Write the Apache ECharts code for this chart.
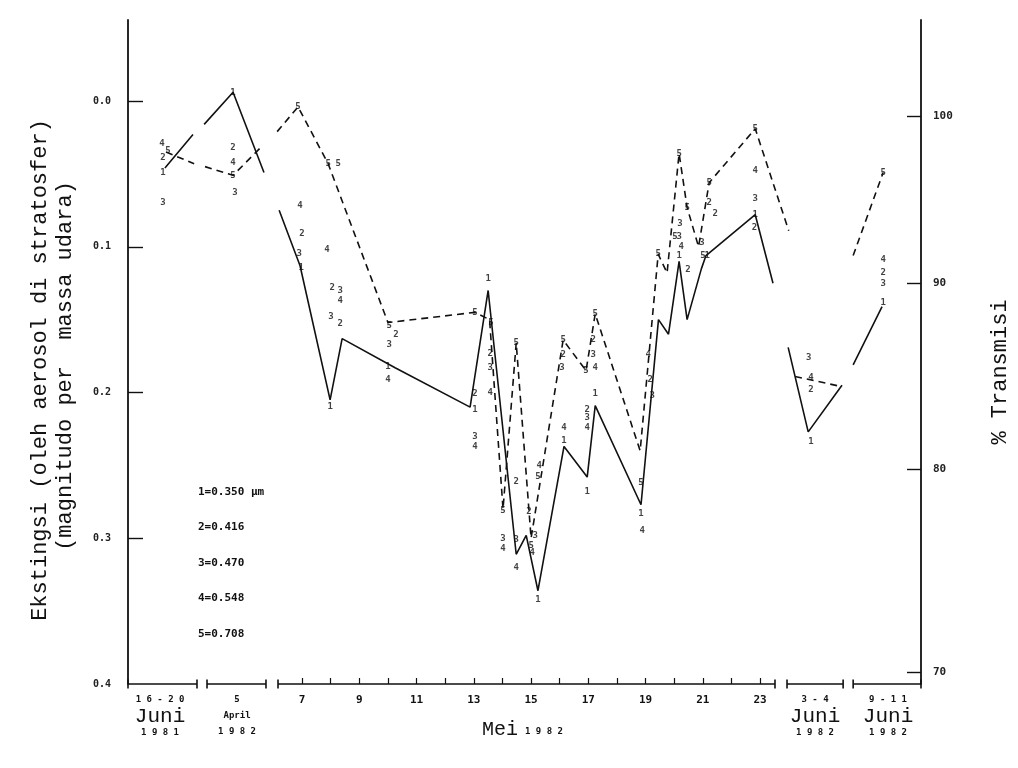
<!DOCTYPE html>
<html><head><meta charset="utf-8">
<script src="https://cdn.jsdelivr.net/npm/echarts@6/dist/echarts.min.js"></script>
<style>html,body{margin:0;padding:0;background:#fff}#c{width:1018px;height:768px}</style>
</head><body><div id="c"></div>
<script>
// ---- x positions: Mei days are day numbers; other periods get positions on the same scale
const periodLabelPos = [2.04, 4.73, 7, 9, 11, 13, 15, 17, 19, 21, 23, 24.92, 27.47];
const periodLabels = ['16-20|Juni|1981', '5|April|1982', '7', '9', '11', '13', '15', '17', '19', '21', '23', '3-4|Juni|1982', '9-11|Juni|1982'];
const dayTicks = [7,8,9,10,11,12,13,14,15,16,17,18,19,20,21,22,23];
const axisSegments = [[0.92,3.33],[3.68,5.74],[6.16,23.52],[23.94,25.90],[26.25,28.62]];
const leftTicks = [0, 0.1, 0.2, 0.3, 0.4];
const rightTickLabels = ['100', '90', '80', '70'];
const rightTickPos = [0.0103, 0.1247, 0.2526, 0.392];

// ---- wavelength 1 (0.350 um), solid line; null = gap
const line1 = [
  [2.21,0.046],[3.19,0.023], null,
  [3.58,0.016],[4.59,-0.006],[5.67,0.049], null,
  [6.20,0.075],[6.93,0.113],[7.98,0.205],[8.40,0.163],[10.25,0.183],[12.87,0.210],[13.50,0.130],
  [14.48,0.311],[14.83,0.298],[15.24,0.336],[16.15,0.237],[16.96,0.258],[17.24,0.209],[18.84,0.277],
  [19.45,0.150],[19.80,0.160],[20.17,0.110],[20.45,0.150],[20.95,0.115],[21.11,0.106],[22.83,0.078],[23.45,0.125], null,
  [23.98,0.169],[24.68,0.227],[25.86,0.195], null,
  [26.25,0.181],[27.26,0.141]
];
// ---- wavelength 5 (0.708 um), dashed line
const line5 = [
  [2.25,0.035],[3.23,0.043], null,
  [3.61,0.045],[4.59,0.051],[5.60,0.031], null,
  [6.13,0.021],[6.86,0.004],[7.91,0.043],[10.0,0.152],[13.04,0.145],[13.55,0.150],[14.02,0.280],
  [14.48,0.166],[15.0,0.300],[16.12,0.164],[16.92,0.185],[17.24,0.146],[18.81,0.240],
  [19.44,0.105],[19.75,0.118],[20.17,0.036],[20.45,0.073],[20.85,0.100],[21.22,0.056],[22.83,0.019],[24.00,0.089], null,
  [24.22,0.189],[25.86,0.196], null,
  [26.25,0.106],[27.30,0.049]
];
// ---- printed wavelength numbers (labels) at their positions
const marks1 = [[2.14,0.049],[4.59,-0.006],[6.97,0.114],[7.98,0.210],[10.0,0.182],[13.04,0.212],[13.5,0.122],
  [15.24,0.342],[16.15,0.233],[16.96,0.268],[17.24,0.201],[18.84,0.283],[20.17,0.106],[21.15,0.106],[22.83,0.078],[24.78,0.234],[27.30,0.138]];
const marks2 = [[2.14,0.039],[4.59,0.032],[7.0,0.091],[8.05,0.128],[8.33,0.153],[10.28,0.160],[13.04,0.201],[13.57,0.173],
  [14.48,0.261],[14.93,0.282],[16.12,0.174],[17.17,0.164],[16.96,0.212],[19.16,0.191],[20.48,0.116],[21.22,0.070],[21.43,0.077],[22.80,0.087],[24.78,0.198],[27.30,0.118]];
const marks3 = [[2.14,0.070],[4.66,0.063],[6.90,0.105],[8.33,0.130],[8.01,0.148],[10.04,0.167],[13.04,0.230],[13.57,0.183],
  [14.02,0.300],[14.48,0.301],[15.14,0.298],[16.08,0.183],[17.17,0.174],[16.96,0.217],[19.23,0.202],[20.20,0.084],[20.17,0.093],[20.97,0.097],[22.83,0.067],[24.70,0.176],[27.30,0.125]];
const marks4 = [[2.11,0.029],[4.59,0.042],[6.93,0.072],[7.87,0.102],[8.33,0.137],[10.0,0.191],[13.04,0.237],[13.57,0.200],
  [14.02,0.307],[14.48,0.320],[15.28,0.250],[15.04,0.310],[16.15,0.224],[17.24,0.183],[16.96,0.224],[19.09,0.174],[18.88,0.295],[20.24,0.100],[22.83,0.048],[24.78,0.190],[27.30,0.109]];
const marks5 = [[2.32,0.034],[4.59,0.051],[6.86,0.004],[7.91,0.043],[8.26,0.043],[10.04,0.154],[13.04,0.145],[13.60,0.152],
  [14.02,0.281],[14.48,0.166],[15.24,0.258],[15.0,0.305],[16.12,0.164],[16.92,0.185],[17.24,0.146],[18.84,0.262],[19.44,0.105],
  [20.17,0.036],[20.45,0.073],[20.03,0.093],[21.00,0.106],[21.22,0.056],[22.83,0.019],[27.30,0.049]];
const legendLines = ['1=0.350 \u00b5m', '2=0.416', '3=0.470', '4=0.548', '5=0.708'];

const toData = a => a.map(p => p === null ? [NaN, '-'] : p);
const spaced = s => s.split('').join(' ');
const chart = echarts.init(document.getElementById('c'), null, {renderer: 'canvas'});
const ink = '#111';
const numFont = 'DejaVu Sans Mono';
const markSeries = (arr, digit) => ({
  type: 'scatter', data: arr, symbol: 'circle', symbolSize: 1, itemStyle: {color: 'rgba(0,0,0,0)'},
  label: {show: true, position: 'inside', formatter: digit, color: ink, fontFamily: numFont, fontWeight: 'bold', fontSize: 9},
  silent: true, z: 5, clip: false
});
const segData = [];
axisSegments.forEach((s, i) => { if (i) segData.push([NaN, '-']); segData.push([s[0], 0.4], [s[1], 0.4]); });

const option = {
  animation: false,
  backgroundColor: '#fff',
  grid: {left: 128, right: 97, top: 20, bottom: 84},
  xAxis: {
    type: 'value', min: 0.92, max: 28.62,
    axisLine: {show: false, onZero: false},
    splitLine: {show: false},
    axisTick: {show: true, customValues: dayTicks, inside: true, length: 6, lineStyle: {color: ink, width: 1.2}},
    axisLabel: {
      customValues: periodLabelPos, margin: 9, color: ink,
      formatter: v => {
        const i = periodLabelPos.findIndex(p => Math.abs(p - v) < 1e-6);
        if (i < 0) return '';
        const parts = periodLabels[i].split('|');
        if (parts.length === 1) return '{d|' + parts[0] + '}';
        const mid = parts[1] === 'Juni' ? '{b|' + parts[1] + '}' : '{m|' + parts[1] + '}';
        return '{s|' + spaced(parts[0]) + '}\n' + mid + '\n{s|' + spaced(parts[2]) + '}';
      },
      rich: {
        d: {fontFamily: numFont, fontWeight: 'bold', fontSize: 11, color: ink, lineHeight: 14},
        s: {fontFamily: numFont, fontWeight: 'bold', fontSize: 9, color: ink, lineHeight: 14},
        b: {fontFamily: 'Liberation Mono', fontSize: 21, color: ink, lineHeight: 19},
        m: {fontFamily: numFont, fontWeight: 'bold', fontSize: 9, color: ink, lineHeight: 18}
      }
    }
  },
  yAxis: [{
    type: 'value', inverse: true, min: -0.0556, max: 0.4, position: 'left',
    axisLine: {show: true, lineStyle: {color: ink, width: 1.8}},
    splitLine: {show: false},
    axisTick: {show: true, customValues: [0, 0.1, 0.2, 0.3], inside: true, length: 15, lineStyle: {color: ink, width: 1.4}},
    axisLabel: {customValues: leftTicks, formatter: v => v.toFixed(1), margin: 17, color: '#222', fontFamily: numFont, fontWeight: 'bold', fontSize: 10}
  }, {
    type: 'value', inverse: true, min: -0.0556, max: 0.4, position: 'right',
    axisLine: {show: true, lineStyle: {color: ink, width: 1.8}},
    splitLine: {show: false},
    axisTick: {show: true, customValues: rightTickPos, inside: true, length: 14, lineStyle: {color: ink, width: 1.4}},
    axisLabel: {customValues: rightTickPos, margin: 12, color: '#222', fontFamily: numFont, fontWeight: 'bold', fontSize: 11,
      formatter: v => { const i = rightTickPos.findIndex(p => Math.abs(p - v) < 1e-6); return i < 0 ? '' : rightTickLabels[i]; }}
  }],
  series: [
    {type: 'line', data: segData, symbol: 'rect', symbolSize: [1.6, 9], showSymbol: true, itemStyle: {color: ink},
     lineStyle: {color: ink, width: 1.6}, silent: true, clip: false, connectNulls: false},
    {type: 'line', data: toData(line1), symbol: 'none', lineStyle: {color: ink, width: 1.6}, connectNulls: false, silent: true, z: 3},
    {type: 'line', data: toData(line5), symbol: 'none', lineStyle: {color: ink, width: 1.6, type: [7, 5]}, connectNulls: false, silent: true, z: 3},
    markSeries(marks1, '1'), markSeries(marks2, '2'), markSeries(marks3, '3'), markSeries(marks4, '4'), markSeries(marks5, '5')
  ],
  graphic: [
    {type: 'text', x: 40, y: 370, rotation: Math.PI / 2, style: {text: 'Ekstingsi (oleh aerosol di stratosfer)', font: '22px "Liberation Mono"', fill: ink, textAlign: 'center', textVerticalAlign: 'middle'}},
    {type: 'text', x: 65, y: 366, rotation: Math.PI / 2, style: {text: '(magnitudo per  massa udara)', font: '22px "Liberation Mono"', fill: ink, textAlign: 'center', textVerticalAlign: 'middle'}},
    {type: 'text', x: 1000, y: 372, rotation: Math.PI / 2, style: {text: '% Transmisi', font: '22px "Liberation Mono"', fill: ink, textAlign: 'center', textVerticalAlign: 'middle'}},
    {type: 'text', x: 500, y: 730, style: {text: 'Mei', font: '20px "Liberation Mono"', fill: ink, textAlign: 'center', textVerticalAlign: 'middle'}},
    {type: 'text', x: 544, y: 732, style: {text: spaced('1982'), font: 'bold 9px "DejaVu Sans Mono"', fill: ink, textAlign: 'center', textVerticalAlign: 'middle'}}
  ].concat(legendLines.map((t, i) => ({type: 'text', x: 198, y: 492 + i * 35.5,
    style: {text: t, font: 'bold 11px "DejaVu Sans Mono"', fill: ink, textAlign: 'left', textVerticalAlign: 'middle'}})))
};
chart.setOption(option);
</script></body></html>
